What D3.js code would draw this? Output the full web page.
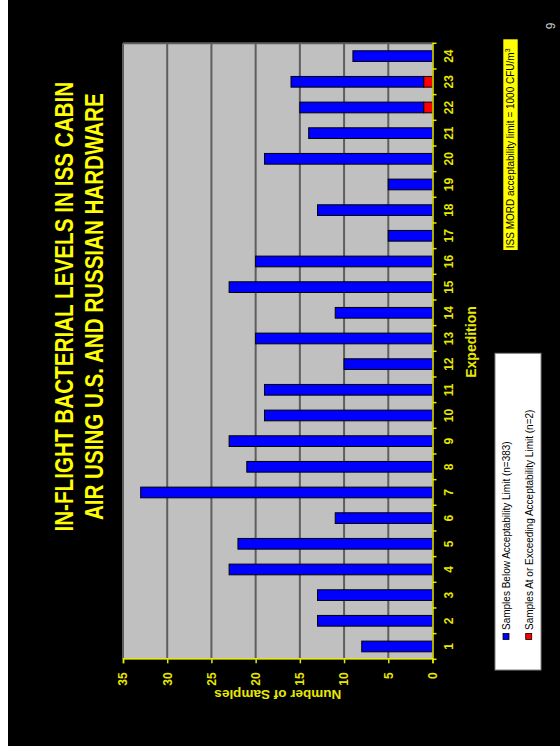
<!DOCTYPE html>
<html><head><meta charset="utf-8">
<script src="https://cdn.jsdelivr.net/npm/d3@7"></script>
<style>html,body{margin:0;padding:0;background:#000;} svg{display:block;}</style>
</head><body>
<script>
const categories = ["1","2","3","4","5","6","7","8","9","10","11","12","13","14","15","16","17","18","19","20","21","22","23","24"];
const belowLimit = [8,13,13,23,22,11,33,21,23,19,19,10,20,11,23,20,5,13,5,19,14,14,15,9];
const atOrAboveLimit = [0,0,0,0,0,0,0,0,0,0,0,0,0,0,0,0,0,0,0,0,0,1,1,0];
const yTicks = [0,5,10,15,20,25,30,35];
const titleLines = ["IN-FLIGHT BACTERIAL LEVELS IN ISS CABIN","AIR USING U.S. AND RUSSIAN HARDWARE"];
const legendLabels = ["Samples Below Acceptability Limit (n=383)","Samples At or Exceeding Acceptability Limit (n=2)"];
const seriesColors = ["#0000ff","#ff0000"];

const FONT = "'Liberation Sans', Arial, sans-serif";
const W = 560, H = 746;
const svg = d3.select("body").append("svg").attr("width", W).attr("height", H);
svg.append("rect").attr("width", W).attr("height", H).attr("fill", "#000");

// the slide is drawn in landscape (746 x 560) then rotated
const g = svg.append("g").attr("transform", `translate(0,${H}) rotate(-90)`);
g.append("rect").attr("x",0).attr("y",0).attr("width",746).attr("height",8).attr("fill","#fff");

const x0 = 86.7, x1 = 702.7, yTop = 123, yBot = 432.5;
const x = d3.scaleBand().domain(categories).range([x0, x1]).paddingInner(0.583).paddingOuter(0.2917);
const y = d3.scaleLinear().domain([0,35]).range([yBot, yTop]);

// plot background
g.append("rect").attr("x", x0).attr("y", yTop).attr("width", x1-x0).attr("height", yBot-yTop).attr("fill","#c0c0c0");
// gridlines
g.selectAll("line.grid").data(yTicks.filter(t => t>0)).join("line")
  .attr("x1", x0).attr("x2", x1).attr("y1", d=>y(d)).attr("y2", d=>y(d))
  .attr("stroke","#5e5e5e").attr("stroke-width",2);
g.append("line").attr("x1",x1).attr("x2",x1).attr("y1",yTop).attr("y2",yBot).attr("stroke","#5e5e5e").attr("stroke-width",2);

// bars
const data = categories.map((c,i)=>({c, red: atOrAboveLimit[i], blue: belowLimit[i]}));
const bw = x.bandwidth();
g.selectAll("rect.red").data(data.filter(d=>d.red>0)).join("rect")
  .attr("x", d=>x(d.c)).attr("width", bw)
  .attr("y", d=>y(d.red)).attr("height", d=>y(0)-y(d.red))
  .attr("fill", seriesColors[1]).attr("stroke","#000").attr("stroke-width",1);
g.selectAll("rect.blue").data(data).join("rect")
  .attr("x", d=>x(d.c)).attr("width", bw)
  .attr("y", d=>y(d.red+d.blue)).attr("height", d=>y(d.red)-y(d.red+d.blue))
  .attr("fill", seriesColors[0]).attr("stroke","#000").attr("stroke-width",1);

// x axis
const ax = g.append("g").attr("transform",`translate(0,${yBot})`)
  .call(d3.axisBottom(x).tickSize(0).tickPadding(12));
ax.select(".domain").attr("stroke","#e8e800").attr("stroke-width",1.5);
ax.selectAll("text").attr("fill","#e8e800").attr("font-family",FONT).attr("font-size",12).attr("font-weight","bold");
const bounds = categories.map(c => x(c) - x.step()*x.paddingInner()/2).concat([x1]);
g.selectAll("line.ctick").data(bounds).join("line")
  .attr("x1",d=>d).attr("x2",d=>d).attr("y1",yBot).attr("y2",yBot+4)
  .attr("stroke","#e8e800").attr("stroke-width",1.5);

// y axis
const ay = g.append("g").attr("transform",`translate(${x0},0)`)
  .call(d3.axisLeft(y).tickValues(yTicks).tickSize(4).tickPadding(9));
ay.select(".domain").attr("stroke","#e8e800").attr("stroke-width",1.5);
ay.selectAll("line").attr("stroke","#e8e800").attr("stroke-width",1.5);
ay.selectAll("text").attr("fill","#e8e800").attr("font-family",FONT).attr("font-size",12).attr("font-weight","bold");

// axis titles
g.append("text").attr("transform",`translate(51,${(yTop+yBot)/2}) rotate(-90)`)
  .attr("text-anchor","middle").attr("dy","0.35em")
  .attr("fill","#e8e800").attr("font-family",FONT).attr("font-size",13.5).attr("font-weight","bold")
  .text("Number of Samples");
g.append("text").attr("x",404).attr("y",476).attr("text-anchor","middle")
  .attr("fill","#e8e800").attr("font-family",FONT).attr("font-size",14).attr("font-weight","bold")
  .text("Expedition");

// title (condensed horizontally with a scale transform)
const titleLens = [450, 427];
const titleBase = [73.3, 103.3];
titleLines.forEach((t,i)=>{
  const tg = g.append("g");
  const tx = tg.append("text").attr("x",0).attr("y",0).attr("text-anchor","middle")
    .attr("fill","#ffff00").attr("font-family",FONT).attr("font-size",25.5).attr("font-weight","bold")
    .text(t);
  const len = tx.node().getComputedTextLength();
  const sx = titleLens[i] / len;
  tg.attr("transform", `translate(439.3,${titleBase[i]}) scale(${sx},1)`);
});

// legend
g.append("rect").attr("x",76).attr("y",495).attr("width",392.7-76).attr("height",46)
  .attr("fill","#fff").attr("stroke","#808080").attr("stroke-width",1);
legendLabels.forEach((t,i)=>{
  const cy = 506 + i*22.7;
  g.append("rect").attr("x",106.5).attr("y",cy-3).attr("width",6).attr("height",6)
    .attr("fill",seriesColors[i]).attr("stroke","#000").attr("stroke-width",0.8);
  g.append("text").attr("x",116).attr("y",cy+3.8).attr("fill","#000")
    .attr("font-family",FONT).attr("font-size",10).text(t);
});

// note box
g.append("rect").attr("x",496).attr("y",503.3).attr("width",706.7-496).attr("height",14.4).attr("fill","#ffff00");
const note = g.append("text").attr("x",497.8).attr("y",514).attr("fill","#000")
  .attr("font-family",FONT).attr("font-size",10);
note.append("tspan").text("ISS MORD acceptability limit = 1000 CFU/m");
note.append("tspan").attr("font-size",7).attr("dy",-4).text("3");

// page number
g.append("text").attr("x",720).attr("y",555).attr("text-anchor","middle")
  .attr("fill","#d0d0d0").attr("font-family",FONT).attr("font-size",12).text("9");
</script>
</body></html>
